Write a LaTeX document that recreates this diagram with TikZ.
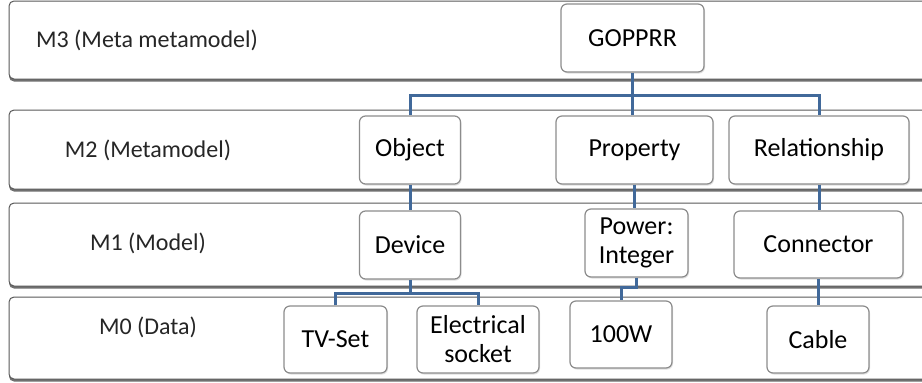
\documentclass[tikz,border=0pt]{standalone}
\usepackage{fontspec}
\setmainfont{Carlito}
\usepackage{tikz}
\usetikzlibrary{shadows}

\definecolor{linkblue}{RGB}{65,105,154}

\tikzset{
    band/.style={draw=black!65, line width=1pt, rounded corners=5pt, fill=white,
        drop shadow={shadow xshift=0pt, shadow yshift=-2.5pt, opacity=0.7, fill=black!80}},
    elem/.style={draw=black!45, line width=1.2pt, rounded corners=6pt, fill=white,
        align=center, inner sep=2pt, font=\fontsize{26}{29}\selectfont,
        drop shadow={shadow xshift=1pt, shadow yshift=-1.5pt, opacity=0.25}},
    layer/.style={font=\fontsize{24}{29}\selectfont, text=black!85},
    link/.style={draw=linkblue, line width=3pt}
}

\begin{document}
\begin{tikzpicture}[x=1pt, y=-1pt]
    \useasboundingbox (0,0) rectangle (922,383);
    \clip (0,0) rectangle (922,383);

    % Ebenen
    \draw[band] (9,1) rectangle (950,79);
    \draw[band] (9,110) rectangle (950,189);
    \draw[band] (9,203) rectangle (950,286);
    \draw[band] (9,297) rectangle (950,379);

    \node[layer] (m3) at (147,40) {M3 (Meta metamodel)};
    \node[layer] (m2) at (148,150) {M2 (Metamodel)};
    \node[layer] (m1) at (148,243) {M1 (Model)};
    \node[layer] (m0) at (148,327) {M0 (Data)};

    % Verbindungen (unter den Kaestchen)
    \coordinate (topbus) at (632,95);
    \coordinate (lowbus) at (411,293);

    % Elemente
    \node[elem, minimum width=143pt, minimum height=68pt] (gop) at (632.5,38) {GOPPRR};

    \node[elem, minimum width=101pt, minimum height=68pt] (obj) at (410,150) {Object};
    \node[elem, minimum width=157pt, minimum height=68pt] (prop) at (634.5,150) {Property};
    \node[elem, minimum width=180pt, minimum height=68pt] (rel) at (819,150) {Relationship};

    \node[elem, minimum width=101pt, minimum height=68pt] (dev) at (410,245) {Device};
    \node[elem, minimum width=103pt, minimum height=68pt] (pow) at (636.5,243) {Power:\\Integer};
    \node[elem, minimum width=169pt, minimum height=67pt] (con) at (818.5,244.5) {Connector};

    \node[elem, minimum width=103pt, minimum height=67pt] (tv) at (335.5,339.5) {TV-Set};
    \node[elem, minimum width=122pt, minimum height=67pt] (sock) at (478,339.5) {Electrical\\socket};
    \node[elem, minimum width=102pt, minimum height=67pt] (w100) at (621,334.5) {100W};
    \node[elem, minimum width=102pt, minimum height=67pt] (cab) at (818,339.5) {Cable};

    % M3 -> M2
    \draw[link] (gop.south) -- (gop.south |- prop.north);
    \draw[link] (obj.north) |- (topbus) -| (rel.north);

    % M2 -> M1
    \draw[link] (obj.south) -- (dev.north);
    \draw[link] (prop.south) -- (prop.south |- pow.north);
    \draw[link] (rel.south) -- (rel.south |- con.north);

    % M1 -> M0
    \draw[link] (dev.south) -- (dev.south |- lowbus);
    \draw[link] (tv.north) |- (lowbus) -| (sock.north);
    \draw[link] (pow.south) -- ++(0,10) -| (w100.north);
    \draw[link] (con.south) -- (con.south |- cab.north);
\end{tikzpicture}
\end{document}
